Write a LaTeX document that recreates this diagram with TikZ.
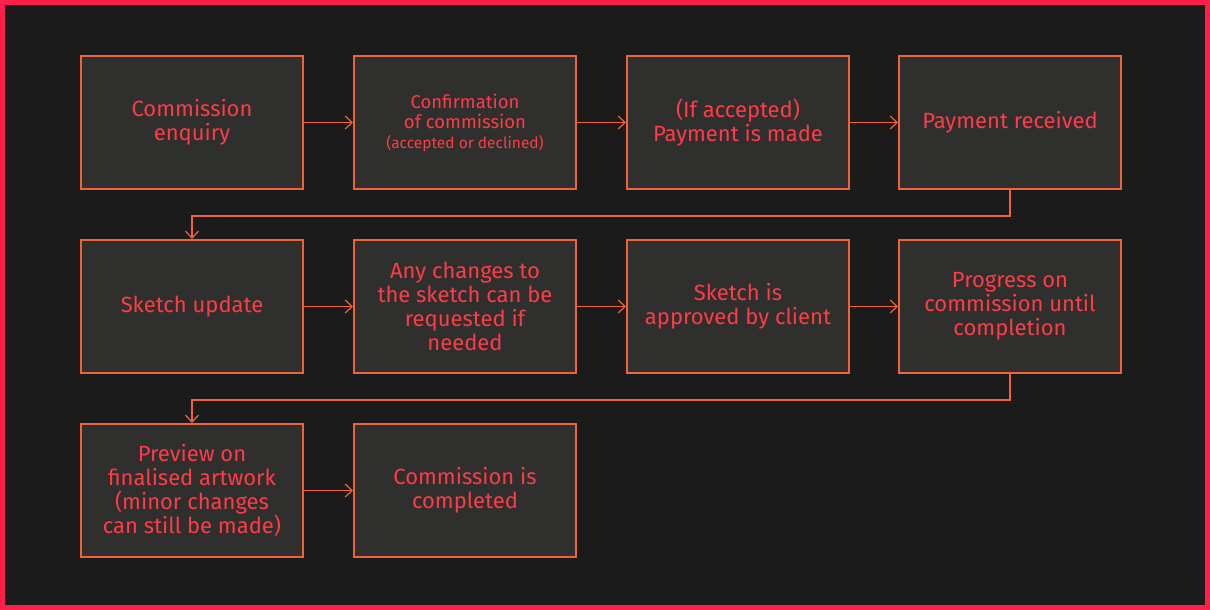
\documentclass[tikz,border=0pt]{standalone}
\usepackage{fontspec}
\setmainfont{Fira Sans}
\usetikzlibrary{arrows.meta}
\definecolor{frame}{HTML}{FF1F4B}
\definecolor{bg}{HTML}{1B1B1B}
\definecolor{boxfill}{HTML}{2F302E}
\definecolor{edge}{HTML}{EE6438}
\definecolor{txt}{HTML}{FF3B47}
\tikzset{
  stepbox/.style={draw=edge, line width=2pt, fill=boxfill, minimum width=222pt, minimum height=133pt, inner sep=0pt, align=center, text=txt, font=\fontsize{22}{24}\selectfont},
  flow/.style={draw=edge, line width=1.2pt, -{Straight Barb[length=7pt,width=13pt,line width=1.2pt]}},
}
\begin{document}
\begin{tikzpicture}[x=1pt,y=-1pt]
\fill[frame] (0,0) rectangle (1210,610);
\fill[bg] (5,5) rectangle (1205,605);
\useasboundingbox (0,0) rectangle (1210,610);
% row 1
\node[stepbox] (a) at (192,122.5) {Commission\\enquiry};
\node[stepbox, font=\fontsize{18.5}{20}\selectfont] (b) at (465,122.5) {Confirmation\\of commission\\{\fontsize{15.5}{19}\selectfont (accepted or declined)}};
\node[stepbox] (c) at (738,122.5) {(If accepted)\\Payment is made};
\node[stepbox] (d) at (1010,122.5) {Payment received};
% row 2
\node[stepbox] (e) at (192,306.5) {Sketch update};
\node[stepbox] (f) at (465,306.5) {Any changes to\\the sketch can be\\requested if\\needed};
\node[stepbox] (g) at (738,306.5) {Sketch is\\approved by client};
\node[stepbox] (h) at (1010,306.5) {Progress on\\commission until\\completion};
% row 3
\node[stepbox] (i) at (192,490.5) {Preview on\\finalised artwork\\(minor changes\\can still be made)};
\node[stepbox] (j) at (465,490.5) {Commission is\\completed};
% connectors
\draw[flow] (a.east) -- (b.west);
\draw[flow] (b.east) -- (c.west);
\draw[flow] (c.east) -- (d.west);
\draw[flow] (d.south) -- ++(0,26) -| (e.north);
\draw[flow] (e.east) -- (f.west);
\draw[flow] (f.east) -- (g.west);
\draw[flow] (g.east) -- (h.west);
\draw[flow] (h.south) -- ++(0,26) -| (i.north);
\draw[flow] (i.east) -- (j.west);
\end{tikzpicture}
\end{document}
